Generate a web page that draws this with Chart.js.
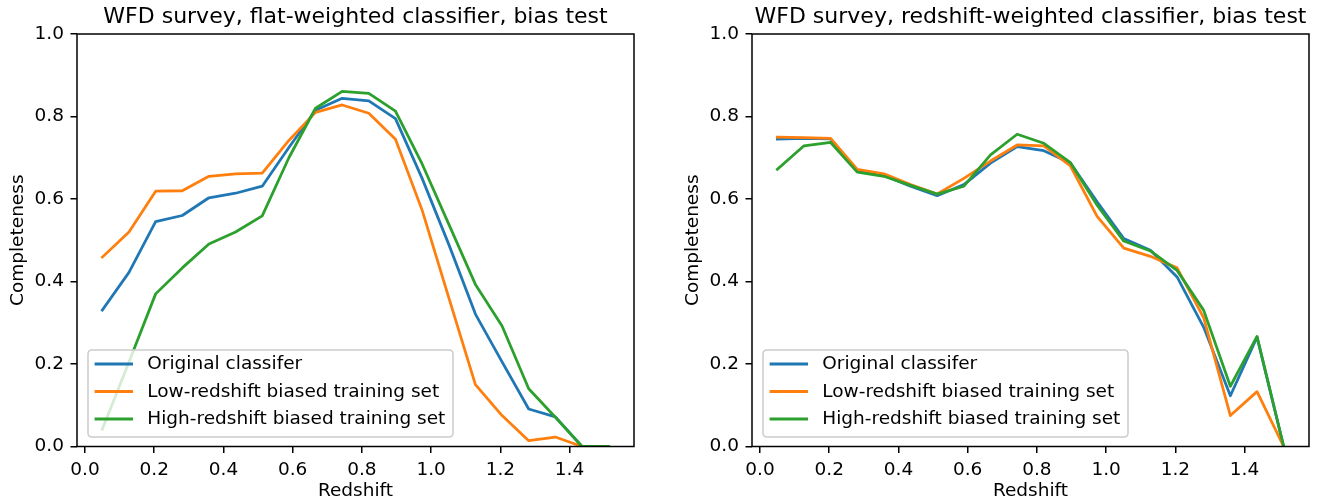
<!DOCTYPE html>
<html><head><meta charset="utf-8">
<script src="https://cdn.jsdelivr.net/npm/chart.js@4.4.0/dist/chart.umd.min.js"></script>
<style>
html,body{margin:0;padding:0;background:#fff;overflow:hidden;width:1323px;height:501px;}
#c1{position:absolute;left:0;top:0;}
#c2{position:absolute;left:675px;top:0;}
</style></head><body>
<canvas id="c1" width="660" height="501"></canvas>
<canvas id="c2" width="648" height="501"></canvas>
<script>
// ---- data ----
const redshift = [0.050, 0.127, 0.204, 0.281, 0.358, 0.435, 0.512, 0.589, 0.666, 0.743,
                  0.820, 0.897, 0.974, 1.051, 1.128, 1.205, 1.282, 1.359, 1.436, 1.513];

const flatOriginal = [0.331, 0.422, 0.545, 0.560, 0.603, 0.614, 0.631, 0.725, 0.815, 0.844,
                      0.838, 0.795, 0.650, 0.490, 0.321, 0.205, 0.091, 0.072, 0.0, 0.0];
const flatLowBias  = [0.459, 0.520, 0.619, 0.620, 0.655, 0.661, 0.663, 0.742, 0.810, 0.828,
                      0.808, 0.745, 0.573, 0.361, 0.150, 0.075, 0.014, 0.023, 0.0, 0.0];
const flatHighBias = [0.042, 0.205, 0.370, 0.433, 0.491, 0.520, 0.559, 0.700, 0.820, 0.861,
                      0.856, 0.813, 0.685, 0.539, 0.393, 0.292, 0.140, 0.071, 0.0, 0.0];

const zwOriginal = [0.745, 0.747, 0.746, 0.668, 0.657, 0.631, 0.608, 0.635, 0.687, 0.727,
                    0.717, 0.687, 0.593, 0.504, 0.476, 0.411, 0.289, 0.123, 0.265, 0.0];
const zwLowBias  = [0.750, 0.749, 0.747, 0.672, 0.661, 0.635, 0.612, 0.650, 0.692, 0.731,
                    0.729, 0.680, 0.558, 0.481, 0.461, 0.433, 0.312, 0.075, 0.133, 0.0];
const zwHighBias = [0.672, 0.729, 0.737, 0.665, 0.655, 0.633, 0.612, 0.631, 0.707, 0.757,
                    0.735, 0.688, 0.585, 0.498, 0.474, 0.427, 0.330, 0.146, 0.267, 0.0];

const seriesLabels = ['Original classifer', 'Low-redshift biased training set', 'High-redshift biased training set'];
const panelTitles = ['WFD survey, flat-weighted classifier, bias test',
                     'WFD survey, redshift-weighted classifier, bias test'];
const xTickValues = [0.0, 0.2, 0.4, 0.6, 0.8, 1.0, 1.2, 1.4];
const yTickValues = [0.0, 0.2, 0.4, 0.6, 0.8, 1.0];
const xAxisLabel = 'Redshift';
const yAxisLabel = 'Completeness';

// ---- styling ----
const FONT = '"DejaVu Sans", "Liberation Sans", sans-serif';
const COLORS = ['#1f77b4', '#ff7f0e', '#2ca02c'];
Chart.defaults.color = '#000';
Chart.defaults.font.family = FONT;

const frameAndLegend = {
  id: 'frameAndLegend',
  afterDatasetsDraw(chart) {
    const {ctx, chartArea: a} = chart;
    ctx.save();
    // axes frame (spines)
    ctx.strokeStyle = '#000';
    ctx.lineWidth = 1.5;
    ctx.strokeRect(a.left, a.top, a.right - a.left, a.bottom - a.top);
    // legend box (lower left)
    const bw = 365, bh = 87;
    const bx = a.left + 11, by = a.bottom - 9.5 - bh, r = 4;
    ctx.beginPath();
    ctx.moveTo(bx + r, by);
    ctx.lineTo(bx + bw - r, by); ctx.quadraticCurveTo(bx + bw, by, bx + bw, by + r);
    ctx.lineTo(bx + bw, by + bh - r); ctx.quadraticCurveTo(bx + bw, by + bh, bx + bw - r, by + bh);
    ctx.lineTo(bx + r, by + bh); ctx.quadraticCurveTo(bx, by + bh, bx, by + bh - r);
    ctx.lineTo(bx, by + r); ctx.quadraticCurveTo(bx, by, bx + r, by);
    ctx.closePath();
    ctx.fillStyle = 'rgba(255,255,255,0.8)';
    ctx.fill();
    ctx.strokeStyle = '#cccccc';
    ctx.lineWidth = 1.5;
    ctx.stroke();
    chart.data.datasets.forEach((ds, i) => {
      const y = by + 14 + i * 27.5;
      ctx.beginPath();
      ctx.moveTo(bx + 8, y);
      ctx.lineTo(bx + 43.6, y);
      ctx.lineCap = 'square';
      ctx.strokeStyle = ds.borderColor;
      ctx.lineWidth = 2.77;
      ctx.stroke();
      ctx.fillStyle = '#000';
      ctx.font = '18.5px ' + FONT;
      ctx.textAlign = 'left';
      ctx.textBaseline = 'middle';
      ctx.fillText(ds.label, bx + 59.3, y + 0.5);
    });
    ctx.restore();
  }
};

function makeDatasets(seriesList) {
  return seriesList.map((vals, i) => ({
    label: seriesLabels[i],
    data: redshift.map((x, k) => ({x: x, y: vals[k]})),
    borderColor: COLORS[i],
    backgroundColor: COLORS[i],
    borderWidth: 2.77,
    borderCapStyle: 'square',
    borderJoinStyle: 'round',
    pointRadius: 0,
    tension: 0,
    fill: false,
    clip: 0,
    order: 3 - i
  }));
}

function tickGrid() {
  return {display: true, drawOnChartArea: false, drawTicks: true, tickLength: 6.5, color: '#000', lineWidth: 1.5};
}

function makeChart(canvasId, title, seriesList, padRight) {
  return new Chart(document.getElementById(canvasId), {
    type: 'line',
    data: {datasets: makeDatasets(seriesList)},
    options: {
      responsive: false,
      animation: false,
      devicePixelRatio: 1,
      layout: {padding: {left: 0, right: padRight, top: 0, bottom: 0}},
      plugins: {
        legend: {display: false},
        tooltip: {enabled: false},
        title: {
          display: true, text: title, color: '#000', fullSize: false,
          font: {family: FONT, size: 22, weight: 'normal', lineHeight: 1.2},
          padding: {top: 4, bottom: 3.6}
        }
      },
      scales: {
        x: {
          type: 'linear', min: -0.0232, max: 1.5862,
          afterBuildTicks: s => { s.ticks = xTickValues.map(v => ({value: v})); },
          afterFit: s => { s.height = 54.5; },
          grid: tickGrid(),
          border: {display: false},
          ticks: {padding: 6.5, color: '#000', font: {family: FONT, size: 18.5},
                  maxRotation: 0, autoSkip: false, callback: v => Number(v).toFixed(1)},
          title: {display: true, text: xAxisLabel, color: '#000',
                  font: {family: FONT, size: 18.5, lineHeight: 1.0}, padding: {top: 0, bottom: 0.75}}
        },
        y: {
          type: 'linear', min: 0, max: 1,
          afterBuildTicks: s => { s.ticks = yTickValues.map(v => ({value: v})); },
          afterFit: s => { s.width = 77; },
          grid: tickGrid(),
          border: {display: false},
          ticks: {padding: 6.5, color: '#000', font: {family: FONT, size: 18.5},
                  autoSkip: false, callback: v => Number(v).toFixed(1)},
          title: {display: true, text: yAxisLabel, color: '#000',
                  font: {family: FONT, size: 18.5, lineHeight: 1.2}, padding: {top: 7.4, bottom: 0}}
        }
      }
    },
    plugins: [frameAndLegend]
  });
}

makeChart('c1', panelTitles[0], [flatOriginal, flatLowBias, flatHighBias], 26);
makeChart('c2', panelTitles[1], [zwOriginal, zwLowBias, zwHighBias], 14);
</script>
</body></html>
